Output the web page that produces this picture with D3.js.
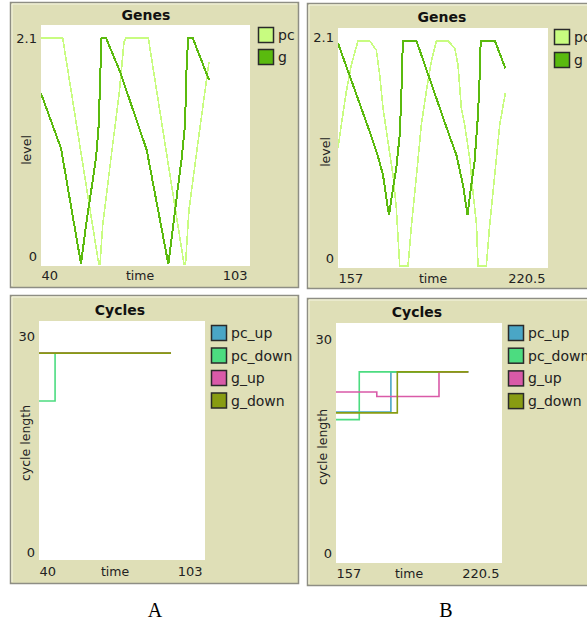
<!DOCTYPE html>
<html><head><meta charset="utf-8">
<script src="https://cdn.jsdelivr.net/npm/d3@7"></script>
<style>body{margin:0;background:#fff}svg{display:block}</style>
</head><body>
<script>
// ---------- DATA ----------
const seriesGenes = ["pc", "g"];
const seriesCycles = ["pc_up", "pc_down", "g_up", "g_down"];

// Genes, run A (time, level)
const pcA = [[40,2.1],[46.54,2.1],[57.40,0],[57.79,0],[58.60,0.362],[61.10,0.985],[63.61,1.598],[65.02,2.063],[65.63,2.1],[72.35,2.1],[83.11,0],[83.56,0],[84.6,0.5],[87.4,1.15],[90.65,1.88]];
const gA = [[40,1.586],[46.03,1.075],[52.06,0],[53.57,0.362],[55.07,0.669],[56.58,0.985],[57.40,1.292],[57.79,1.682],[58.24,2.1],[59.60,2.1],[63.82,1.787],[71.87,1.059],[78.38,0],[79.89,0.362],[81.09,0.669],[82.42,0.985],[83.41,1.292],[83.93,1.877],[84.41,2.1],[85.73,2.1],[90.65,1.710]];
// Genes, run B
const pcB = [[157,1.098],[158.0,1.316],[159.51,1.627],[161.02,1.876],[163.05,2.1],[166.59,2.1],[168.58,2.016],[169.61,1.783],[170.61,1.475],[172.12,1.160],[173.63,0.849],[174.63,0.541],[175.66,0],[178.17,0],[179.22,0.383],[180.74,0.849],[182.19,1.316],[183.70,1.627],[185.21,1.907],[186.72,2.1],[190.26,2.1],[192.29,2.035],[193.29,1.876],[194.29,1.475],[195.31,1.316],[196.82,1.008],[197.82,0.691],[198.88,0.383],[199.33,0],[201.84,0],[202.87,0.383],[204.38,0.849],[205.89,1.316],[207.59,1.612]];
const gB = [[157,2.08],[166.59,1.253],[169.10,1.020],[170.61,0.849],[171.61,0.635],[172.42,0.476],[173.33,0.663],[174.63,0.915],[175.66,1.223],[176.14,1.580],[176.44,1.941],[176.66,2.1],[180.74,2.1],[190.26,1.253],[192.77,1.040],[194.80,0.756],[196.16,0.476],[197.31,0.756],[198.28,0.971],[199.33,1.409],[199.85,1.783],[200.15,2.1],[204.47,2.1],[207.59,1.845]];

// Cycles, run A (step-after: time, cycle length)
const pcUpA = [[40,27.7],[90.1,27.7]];
const pcDownA = [[40,21.3],[46.1,27.7],[90.1,27.7]];
const gUpA = [[40,27.7],[90.1,27.7]];
const gDownA = [[40,27.7],[90.1,27.7]];
// Cycles, run B
const pcUpB = [[157,20.2],[178.0,25.6],[207.6,25.6]];
const pcDownB = [[157,19.2],[165.9,25.6],[207.6,25.6]];
const gUpB = [[157,22.9],[172.6,22.3],[196.4,25.6],[207.6,25.6]];
const gDownB = [[157,20.1],[180.45,25.6],[207.6,25.6]];

const xDomainA = [40, 103], xDomainB = [157, 220.5];
const genesYDomain = [0, 2.1], cyclesYDomain = [0, 30];
const xTicksA = ["40", "103"], xTicksB = ["157", "220.5"];
const panelLabels = ["A", "B"];

// ---------- STYLE ----------
const genesColors = {pc: "#c8fc80", g: "#5aba0e"};
const cyclesColors = {pc_up: "#4aa6c6", pc_down: "#4cdc80", g_up: "#d95aa8", g_down: "#889c12"};
const lineWidths = {pc: 1.6, g: 2, pc_up: 1.6, pc_down: 1.6, g_up: 1.6, g_down: 1.6};
const SANS = "'DejaVu Sans', Verdana, sans-serif";
const BG = "#dfdfb7";

const svg = d3.select("body").append("svg").attr("width", 587).attr("height", 626);
svg.append("rect").attr("width", 587).attr("height", 626).attr("fill", "#fff");
const defs = svg.append("defs");
let clipId = 0;

function frame(x, y, w, h) {
  svg.append("rect").attr("x", x + 0.5).attr("y", y + 0.5).attr("width", w).attr("height", h)
    .attr("fill", BG).attr("stroke", "#8e8e84").attr("stroke-width", 1.5);
  svg.append("path").attr("d", `M${x+2},${y+h-1}V${y+2}H${x+w-1}`).attr("fill", "none")
    .attr("stroke", "#f6f6e4").attr("stroke-width", 1);
}

function plot(cfg) {
  frame(cfg.frame[0], cfg.frame[1], cfg.frame[2], cfg.frame[3]);
  const [px0, py0, px1, py1] = cfg.area;
  svg.append("rect").attr("x", px0).attr("y", py0).attr("width", px1 - px0).attr("height", py1 - py0).attr("fill", "#fff");
  const x = d3.scaleLinear().domain(cfg.xDomain).range(cfg.xRange);
  const y = d3.scaleLinear().domain(cfg.yDomain).range(cfg.yRange);

  const id = "clip" + (clipId++);
  defs.append("clipPath").attr("id", id).append("rect")
    .attr("x", px0).attr("y", py0).attr("width", px1 - px0).attr("height", py1 - py0);
  const g = svg.append("g").attr("clip-path", `url(#${id})`);
  const line = d3.line().x(d => x(d[0])).y(d => y(d[1])).curve(cfg.curve);
  cfg.series.forEach((s, i) => {
    g.append("path").datum(cfg.data[i]).attr("d", line).attr("fill", "none")
      .attr("stroke", cfg.colors[s]).attr("stroke-width", lineWidths[s]).attr("stroke-linejoin", "miter")
      .attr("shape-rendering", cfg.crisp ? "crispEdges" : "auto");
  });

  // title
  svg.append("text").attr("x", cfg.title[1]).attr("y", cfg.title[2]).attr("text-anchor", "middle")
    .attr("font-family", SANS).attr("font-weight", "bold").attr("font-size", 14).attr("fill", "#111").text(cfg.title[0]);

  // y axis (min / max labels)
  const ya = svg.append("g").attr("transform", `translate(${px0 - 4},0)`)
    .call(d3.axisLeft(y).tickValues(cfg.yDomain).tickSize(0).tickPadding(0)
      .tickFormat(d => String(d)));
  ya.select(".domain").remove();
  ya.selectAll("text").attr("font-family", SANS).attr("font-size", 13).attr("fill", "#222")
    .attr("dy", (d, i) => i === 0 ? cfg.yMinDy : cfg.yMaxDy);

  // x axis (min / max labels)
  const xa = svg.append("g").attr("transform", `translate(0,${cfg.xBase})`)
    .call(d3.axisBottom(x).tickValues(cfg.xDomain).tickSize(0).tickPadding(0)
      .tickFormat((d, i) => cfg.xTicks[i]));
  xa.select(".domain").remove();
  xa.selectAll("text").attr("font-family", SANS).attr("font-size", 13).attr("fill", "#222")
    .attr("y", 0).attr("dy", 0)
    .attr("text-anchor", (d, i) => i === 0 ? "start" : "end")
    .attr("dx", (d, i) => i === 0 ? 0 : -3);

  // axis names
  svg.append("text").attr("x", cfg.xName[0]).attr("y", cfg.xBase).attr("text-anchor", "middle")
    .attr("font-family", SANS).attr("font-size", 12.5).attr("fill", "#222").text("time");
  svg.append("text").attr("transform", `translate(${cfg.yName[1]},${cfg.yName[2]}) rotate(-90)`)
    .attr("text-anchor", "middle").attr("font-family", SANS).attr("font-size", 12.5).attr("fill", "#222").text(cfg.yName[0]);

  // legend
  cfg.series.forEach((s, i) => {
    const ly = cfg.legend[1] + i * cfg.legend[2];
    svg.append("rect").attr("x", cfg.legend[0] + 0.5).attr("y", ly + 0.5).attr("width", 15).attr("height", 15)
      .attr("fill", cfg.colors[s]).attr("stroke", "#2a2a2a").attr("stroke-width", 1.5);
    svg.append("text").attr("x", cfg.legend[0] + 20).attr("y", ly + 13).attr("font-family", SANS)
      .attr("font-size", 14).attr("fill", "#222").text(s);
  });
}

plot({frame: [10, 2, 288, 285], area: [41, 25, 250, 266], xDomain: xDomainA, xRange: [41, 250],
  yDomain: genesYDomain, yRange: [264, 38], series: seriesGenes, colors: genesColors, data: [pcA, gA],
  curve: d3.curveLinear, crisp: true, title: ["Genes", 146, 20], yMinDy: "-0.25em", yMaxDy: "0.35em", xBase: 280, xTicks: xTicksA,
  xName: [140], yName: ["level", 31, 150], legend: [258, 27, 22]});

plot({frame: [307, 3, 300, 285], area: [338, 28, 548, 268], xDomain: xDomainB, xRange: [338, 548],
  yDomain: genesYDomain, yRange: [266, 41], series: seriesGenes, colors: genesColors, data: [pcB, gB],
  curve: d3.curveLinear, crisp: true, title: ["Genes", 442, 22], yMinDy: "-0.25em", yMaxDy: "0.0em", xBase: 283, xTicks: xTicksB,
  xName: [433], yName: ["level", 330, 152], legend: [554, 29, 23]});

plot({frame: [10, 295, 288, 288], area: [39, 321, 205, 560], xDomain: xDomainA, xRange: [39, 205],
  yDomain: cyclesYDomain, yRange: [560, 336], series: seriesCycles, colors: cyclesColors,
  data: [pcUpA, pcDownA, gUpA, gDownA], curve: d3.curveStepAfter, crisp: false, title: ["Cycles", 120, 315],
  yMinDy: "-0.25em", yMaxDy: "0.35em", xBase: 576, xTicks: xTicksA,
  xName: [115], yName: ["cycle length", 30, 443], legend: [211, 325, 22.5]});

plot({frame: [307, 298, 300, 287], area: [336, 323, 502, 563], xDomain: xDomainB, xRange: [336, 502],
  yDomain: cyclesYDomain, yRange: [563, 339], series: seriesCycles, colors: cyclesColors,
  data: [pcUpB, pcDownB, gUpB, gDownB], curve: d3.curveStepAfter, crisp: false, title: ["Cycles", 417, 317],
  yMinDy: "-0.4em", yMaxDy: "0.35em", xBase: 578, xTicks: xTicksB,
  xName: [409], yName: ["cycle length", 327, 447], legend: [508, 325, 22.7]});

// panel letters
svg.selectAll("text.lbl").data(panelLabels).enter().append("text").attr("class", "lbl")
  .attr("x", (d, i) => [155, 446][i]).attr("y", 617).attr("text-anchor", "middle")
  .attr("font-family", "'Liberation Serif', 'Times New Roman', serif").attr("font-size", 20).attr("fill", "#000")
  .text(d => d);
</script>
</body></html>
